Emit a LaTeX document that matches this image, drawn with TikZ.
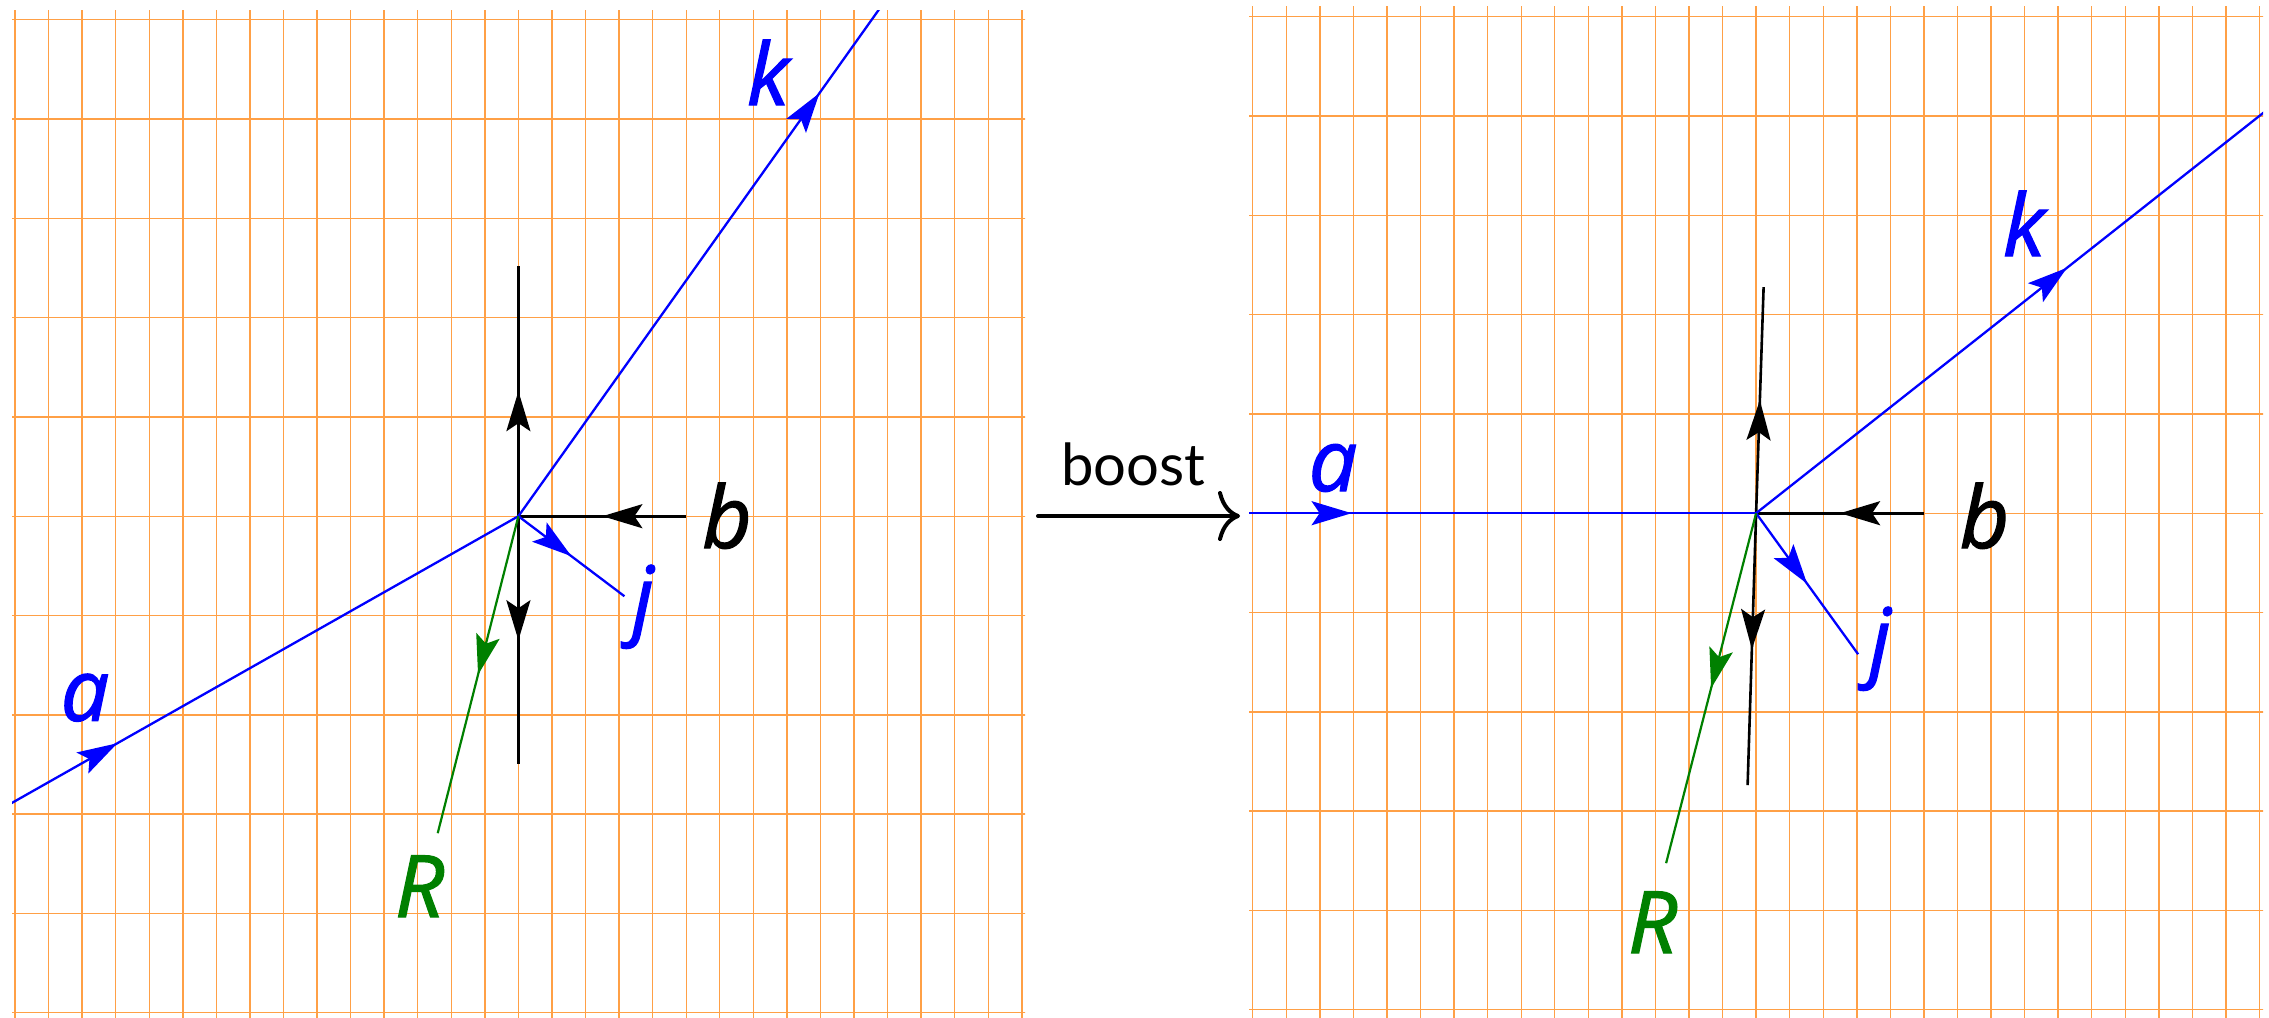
\documentclass[tikz,border=0pt]{standalone}
\usepackage{fontspec}
\setmainfont{Open Sans}
\newfontfamily\lblfont[FakeBold=1.5]{Open Sans}
\newfontfamily\boostfont{Lato}
\usetikzlibrary{arrows.meta,decorations.markings,calc}
\definecolor{gridorange}{RGB}{255,160,70}
\definecolor{momgreen}{RGB}{0,128,0}
\tikzset{
  midarrow/.style={postaction={decorate},
    decoration={markings,mark=at position 0.5 with {\arrow{Stealth[length=40pt,width=24pt,inset=8pt]}}}},
  gridline/.style={draw=gridorange,line width=1.4pt},
  blackmom/.style={color=black,line width=2.6pt,midarrow},
  bluemom/.style={color=blue,line width=2.3pt,midarrow},
  greenmom/.style={color=momgreen,line width=2.2pt,midarrow},
  lbl/.style={font=\lblfont\fontsize{86}{90}\selectfont\itshape,inner sep=0pt,anchor=base},
}
\begin{document}
\begin{tikzpicture}[x=1pt,y=-1pt]
\useasboundingbox (0,0) rectangle (2269,1017);
% ---------- left panel ----------
\begin{scope}
  \clip (12,10) rectangle (1025,1017);
  \foreach \i in {0,...,30} \draw[gridline] ({15+33.56*\i},0) -- ({15+33.56*\i},1030);
  \foreach \j in {0,...,10} \draw[gridline] (0,{19.7+99.3*\j}) -- (1040,{19.7+99.3*\j});
  \coordinate (VL) at (518.4,516.2);
  \coordinate (upL) at ($(VL)+(0,-250)$);
  \coordinate (dnL) at ($(VL)+(0,248)$);
  \coordinate (bL) at ($(VL)+(168,0)$);
  \coordinate (jL) at ($(VL)+(106,80)$);
  \coordinate (kL) at ($(VL)+(602,-846)$);
  \coordinate (aL) at ($(VL)+(-802,454)$);
  \coordinate (RL) at ($(VL)+(-80.7,317)$);
  \draw[blackmom] (VL) -- (upL);
  \draw[blackmom] (VL) -- (dnL);
  \draw[blackmom] (bL) -- (VL);
  \draw[bluemom] (VL) -- (jL);
  \draw[bluemom] (VL) -- (kL);
  \draw[bluemom] (aL) -- (VL);
  \draw[greenmom] (VL) -- (RL);
\end{scope}
\node[lbl,text=black] (lb) at (727,548) {b};
\node[lbl,text=blue] (lj) at (643,628) {j};
\node[lbl,text=blue] (lk) at (768,105) {k};
\node[lbl,text=blue] (la) at (85,720.7) {a};
\node[lbl,text=momgreen] (lR) at (419.5,917) {R};
% ---------- boost arrow ----------
\coordinate (bs) at (1038,516);
\coordinate (be) at (1240,516);
\draw[line width=4pt,line cap=round,-{To[length=22pt,width=50pt]}] (bs) -- (be);
\node[font=\boostfont\fontsize{58}{60}\selectfont,inner sep=0pt,anchor=base] (boost) at (1133.5,485) {boost};
% ---------- right panel ----------
\begin{scope}
  \clip (1249,6.7) rectangle (2263,1017);
  \foreach \i in {0,...,30} \draw[gridline] ({1252.7+33.56*\i},0) -- ({1252.7+33.56*\i},1030);
  \foreach \j in {0,...,10} \draw[gridline] (1240,{16.7+99.3*\j}) -- (2269,{16.7+99.3*\j});
  \coordinate (VR) at (1756.1,513.2);
  \coordinate (upR) at ($(VR)+(7.5,-226)$);
  \coordinate (dnR) at ($(VR)+(-8.5,272)$);
  \coordinate (bR) at ($(VR)+(168,0)$);
  \coordinate (jR) at ($(VR)+(102,141)$);
  \coordinate (kR) at ($(VR)+(622,-491)$);
  \coordinate (aR) at ($(VR)+(-809,0)$);
  \coordinate (RR) at ($(VR)+(-90,350)$);
  \draw[blackmom] (VR) -- (upR);
  \draw[blackmom] (VR) -- (dnR);
  \draw[blackmom] (bR) -- (VR);
  \draw[bluemom] (VR) -- (jR);
  \draw[bluemom] (VR) -- (kR);
  \draw[bluemom] (aR) -- (VR);
  \draw[greenmom] (VR) -- (RR);
\end{scope}
\node[lbl,text=black] (rb) at (1984.5,548) {b};
\node[lbl,text=blue] (rj) at (1880,670) {j};
\node[lbl,text=blue] (rk) at (2024,256) {k};
\node[lbl,text=blue] (ra) at (1333,491) {a};
\node[lbl,text=momgreen] (rR) at (1652.6,953) {R};
\end{tikzpicture}
\end{document}
